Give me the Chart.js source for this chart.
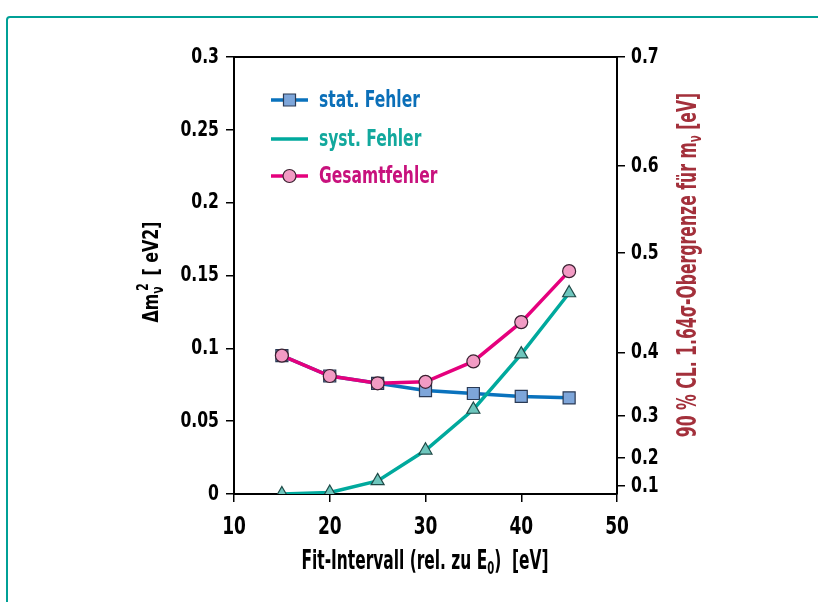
<!DOCTYPE html>
<html>
<head>
<meta charset="utf-8">
<script src="https://cdn.jsdelivr.net/npm/chart.js@4.4.0/dist/chart.umd.min.js"></script>
<style>
  html, body { margin: 0; padding: 0; background: #fff; overflow: hidden; width: 818px; height: 602px; }
  #frame { position: absolute; left: 6px; top: 16px; width: 900px; height: 700px; border: 2px solid #00a096; border-radius: 4px; }
  #wrap { position: absolute; left: 0; top: 0; width: 818px; height: 602px; }
</style>
</head>
<body>
<div id="frame"></div>
<div id="wrap"><canvas id="chart" width="818" height="602"></canvas></div>
<script>
const FONT = '"DejaVu Sans Condensed", "Liberation Sans", sans-serif';

const intervals = [15, 20, 25, 30, 35, 40, 45];
const statErr  = [0.095, 0.081, 0.076, 0.071, 0.069, 0.067, 0.066];
const systErr  = [0.0, 0.001, 0.009, 0.030, 0.058, 0.096, 0.138];
const totalErr = [0.095, 0.081, 0.076, 0.077, 0.091, 0.118, 0.153];

const xTicks = [10, 20, 30, 40, 50];
const leftTicks = [0, 0.05, 0.1, 0.15, 0.2, 0.25, 0.3];
// right axis = upper limit on m_nu, placed at the matching delta m^2 value
const rightTickLabels = ['0.1', '0.2', '0.3', '0.4', '0.5', '0.6', '0.7'];
const rightTickAt     = [0.0055, 0.0247, 0.0535, 0.097, 0.1654, 0.2252, 0.3];

const canvas = document.getElementById('chart');

// no condensed Helvetica here, so squeeze the text horizontally instead
const TICK_SQUASH = 0.79;
let squash = TICK_SQUASH;
const c2d = canvas.getContext('2d');
const rawFill = c2d.fillText;
c2d.fillText = function (t, x, y, mw) {
  if (squash === 1) return rawFill.call(this, t, x, y, mw);
  this.save();
  this.translate(x, y);
  this.scale(squash, 1);
  if (mw === undefined) rawFill.call(this, t, 0, 0);
  else rawFill.call(this, t, 0, 0, mw / squash);
  this.restore();
};

const gridOpts = { drawOnChartArea: false, tickLength: 8, color: '#000', lineWidth: 1.5 };
const borderOpts = { color: '#000', width: 2 };

function pts(ys) {
  return intervals.map((x, i) => ({ x: x, y: ys[i] }));
}

// text with sub/superscripts, centred on baseline point (x, y), optionally rotated
function richText(c, parts, x, y, angle, color, k) {
  squash = k;
  let w = 0;
  const adv = [];
  parts.forEach(p => {
    c.font = 'bold ' + p.size + 'px ' + FONT;
    const m = c.measureText(p.t).width * k;
    adv.push(m);
    if (!p.over) w += m;
  });
  c.save();
  c.translate(x, y);
  c.rotate(angle);
  c.fillStyle = color;
  c.textBaseline = 'alphabetic';
  c.textAlign = 'left';
  let cx = -w / 2, last = cx;
  parts.forEach((p, i) => {
    c.font = 'bold ' + p.size + 'px ' + FONT;
    const px = p.over ? last + (p.shift || 0) : cx;
    c.fillText(p.t, px, p.dy || 0);
    if (!p.over) { last = cx; cx += adv[i]; }
  });
  c.restore();
  squash = TICK_SQUASH;
}

const decor = {
  id: 'decor',
  beforeDraw() { squash = TICK_SQUASH; },
  afterDraw(chart) {
    const c = chart.ctx;
    const a = chart.chartArea;
    c.save();
    // top closing line of the plot box
    c.strokeStyle = '#000';
    c.lineWidth = 2;
    c.beginPath();
    c.moveTo(a.left, a.top);
    c.lineTo(a.right, a.top);
    c.stroke();

    // legend
    const rows = [100, 139, 176];
    const textCols = ['#0b6fb8', '#12a89d', '#c8127d'];
    chart.data.datasets.forEach((ds, r) => {
      const y = rows[r];
      c.strokeStyle = ds.borderColor;
      c.lineWidth = ds.borderWidth;
      c.beginPath();
      c.moveTo(271, y);
      c.lineTo(308, y);
      c.stroke();
      if (ds.legendMarker) {
        c.fillStyle = ds.backgroundColor;
        c.strokeStyle = ds.pointBorderColor;
        c.lineWidth = ds.pointBorderWidth;
        Chart.helpers.drawPoint(c, { pointStyle: ds.pointStyle, radius: ds.pointRadius, rotation: 0, borderWidth: ds.pointBorderWidth }, 289.5, y);
      }
      squash = 0.75;
      c.fillStyle = textCols[r];
      c.font = 'bold 23px ' + FONT;
      c.textBaseline = 'middle';
      c.textAlign = 'left';
      c.fillText(ds.label, 319, y + 1);
    });
    c.restore();

    // axis titles
    richText(c, [
      { t: 'Fit-Intervall (rel. zu E', size: 26 },
      { t: '0', size: 17, dy: 5 },
      { t: ')  [eV]', size: 26 }
    ], 425, 569, 0, '#000', 0.66);

    richText(c, [
      { t: '\u0394m', size: 22 },
      { t: '\u03bd', size: 15, dy: 5 },
      { t: '2', size: 15, dy: -10, over: true, shift: 3 },
      { t: '  [ eV2]', size: 22 }
    ], 158, 272, -Math.PI / 2, '#000', 0.8);

    richText(c, [
      { t: '90 % CL. 1.64\u03c3-Obergrenze f\u00fcr m', size: 26 },
      { t: '\u03bd', size: 17, dy: 5 },
      { t: ' [eV]', size: 26 }
    ], 696, 265, -Math.PI / 2, '#a3303b', 0.67);
  }
};

new Chart(canvas, {
  type: 'line',
  data: {
    datasets: [
      {
        label: 'stat. Fehler',
        data: pts(statErr),
        borderColor: '#0a72bd',
        backgroundColor: '#7ea6da',
        pointStyle: 'rect',
        pointRadius: 8.5,
        pointBorderColor: '#2a3a55',
        pointBorderWidth: 1.2,
        borderWidth: 3.5,
        legendMarker: true,
        order: 3
      },
      {
        label: 'syst. Fehler',
        data: pts(systErr),
        borderColor: '#00a99d',
        backgroundColor: '#6ec6bd',
        pointStyle: 'triangle',
        pointRadius: 7.5,
        pointBorderColor: '#1f4a47',
        pointBorderWidth: 1.2,
        borderWidth: 3.5,
        legendMarker: false,
        order: 2
      },
      {
        label: 'Gesamtfehler',
        data: pts(totalErr),
        borderColor: '#e5007d',
        backgroundColor: '#f29bc4',
        pointStyle: 'circle',
        pointRadius: 6.5,
        pointBorderColor: '#3a2030',
        pointBorderWidth: 1.2,
        borderWidth: 3.5,
        legendMarker: true,
        order: 1
      }
    ]
  },
  options: {
    responsive: false,
    animation: false,
    layout: { padding: { top: 57, left: 0, right: 0, bottom: 0 } },
    elements: { line: { tension: 0 } },
    plugins: {
      legend: { display: false },
      tooltip: { enabled: false }
    },
    scales: {
      x: {
        type: 'linear',
        min: 10,
        max: 50,
        afterBuildTicks: s => { s.ticks = xTicks.map(v => ({ value: v })); },
        afterFit: s => { s.height = 108; },
        ticks: { font: { family: FONT, size: 24, weight: 'bold' }, color: '#000', padding: 11, maxRotation: 0 },
        grid: gridOpts,
        border: borderOpts
      },
      y: {
        position: 'left',
        min: 0,
        max: 0.3,
        afterBuildTicks: s => { s.ticks = leftTicks.map(v => ({ value: v })); },
        afterFit: s => { s.width = 234; },
        ticks: { font: { family: FONT, size: 22, weight: 'bold' }, color: '#000', padding: 7, callback: v => String(v) },
        grid: gridOpts,
        border: borderOpts
      },
      y2: {
        position: 'right',
        min: 0,
        max: 0.3,
        afterBuildTicks: s => { s.ticks = rightTickAt.map(v => ({ value: v })); },
        afterFit: s => { s.width = 201; },
        ticks: { font: { family: FONT, size: 22, weight: 'bold' }, color: '#000', padding: 6, callback: (v, i) => rightTickLabels[i] },
        grid: gridOpts,
        border: borderOpts
      }
    }
  },
  plugins: [decor]
});
</script>
</body>
</html>
